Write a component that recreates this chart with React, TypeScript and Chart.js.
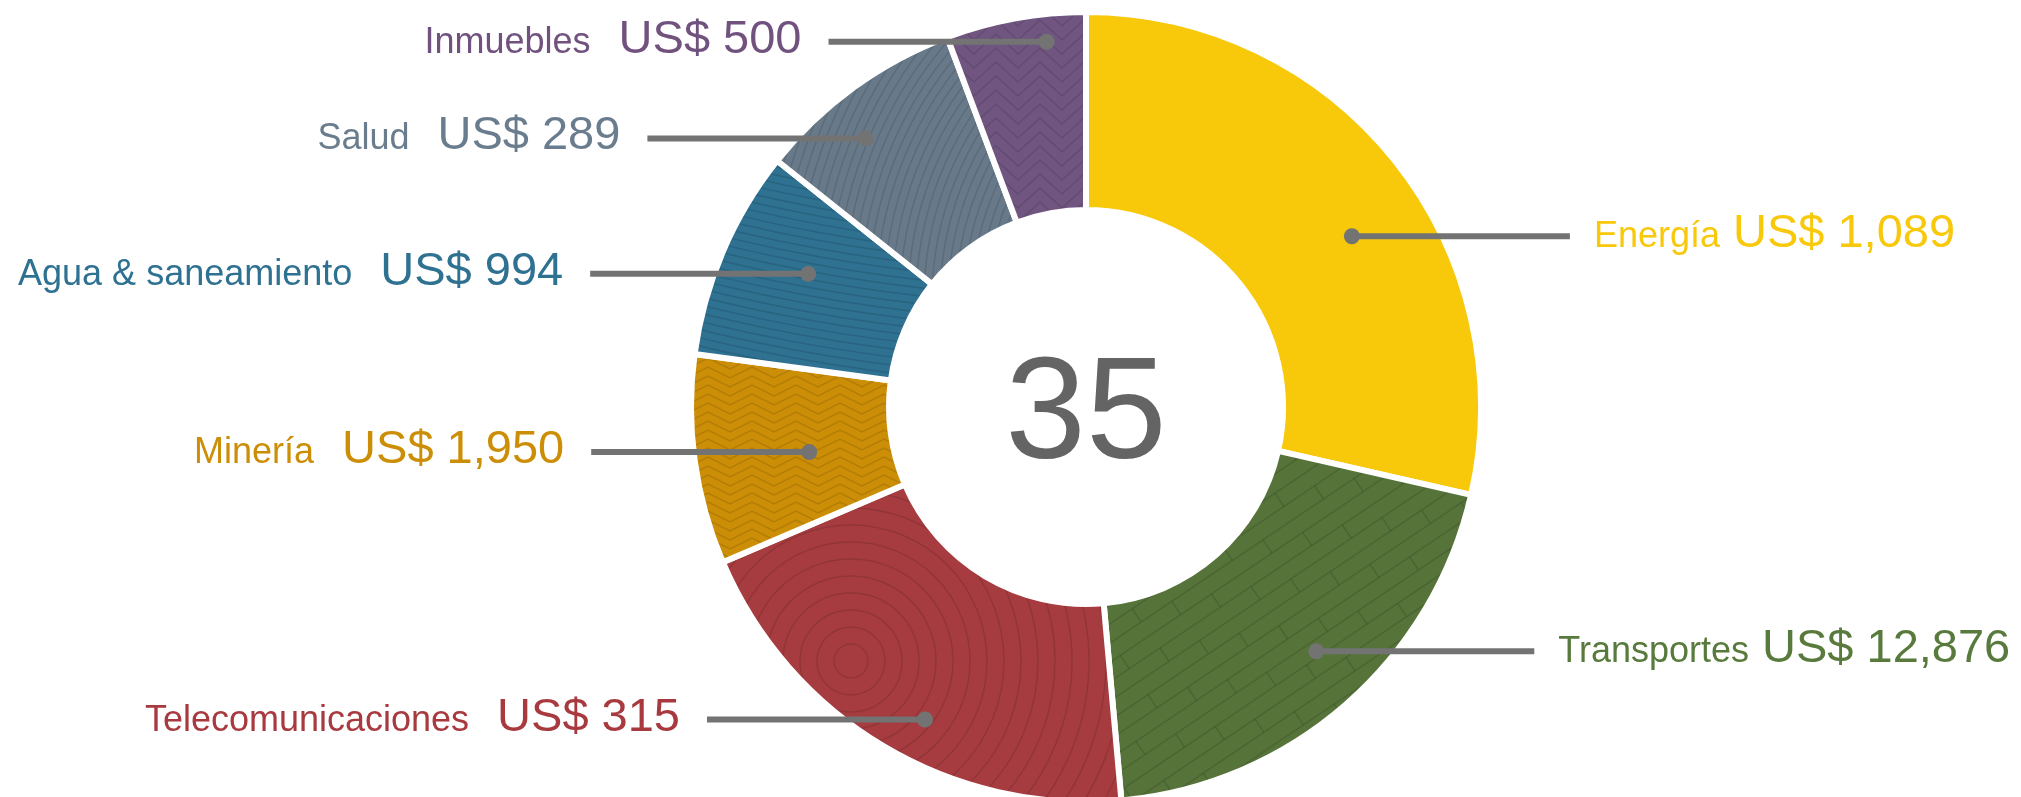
import React, { useEffect, useRef } from "react";
import { Chart, registerables } from "chart.js";

Chart.register(...registerables);

// ---- Data ----
const categories = ["Energía", "Transportes", "Telecomunicaciones", "Minería", "Agua & saneamiento", "Salud", "Inmuebles"];
const projectCounts = [10, 7, 7, 3, 3, 3, 2];
const investmentLabels = ["US$ 1,089", "US$ 12,876", "US$ 315", "US$ 1,950", "US$ 994", "US$ 289", "US$ 500"];

// ---- Styles ----
const sliceColors = ["#F8C80B", "#56733A", "#A63C40", "#CC8E06", "#2E7191", "#687A8A", "#705580"];
const textColors = ["#F8C80B", "#587A3C", "#A83A3F", "#CC8E06", "#2E7191", "#6A7D8E", "#71527F"];
const textures = ["plain", "planks", "rings", "zigzag", "arcsA", "arcsS", "chevrons"];
// where along each slice the leader dot sits: t = fraction of the slice's angle, r = fraction of outer radius
const leaderAnchors = [
  { t: 0.557, r: 0.8 },
  { t: 0.47, r: 0.85 },
  { t: 0.45, r: 0.89 },
  { t: 0.45, r: 0.71 },
  { t: 0.58, r: 0.78 },
  { t: 0.39, r: 0.88 },
  { t: 0.7, r: 0.93 },
];

const W = 2021;
const H = 797;
const FONT = "'Liberation Sans', Arial, sans-serif";

function makePattern(kind: string, color: string): CanvasPattern | string {
  if (kind === "plain") return color;
  const c = document.createElement("canvas");
  c.width = W;
  c.height = H;
  const g = c.getContext("2d")!;
  g.fillStyle = color;
  g.fillRect(0, 0, W, H);
  g.strokeStyle = "rgba(0,0,0,0.12)";
  g.lineWidth = 1.5;
  if (kind === "planks") {
    g.save();
    g.translate(1300, 650);
    g.rotate((-34 * Math.PI) / 180);
    let i = 0;
    for (let y = -800; y <= 800; y += 16, i++) {
      g.beginPath();
      g.moveTo(-900, y);
      g.lineTo(900, y);
      g.stroke();
      const off = (i * 37) % 110;
      for (let x = -900 + off; x < 900; x += 110) {
        g.beginPath();
        g.moveTo(x, y);
        g.lineTo(x, y + 16);
        g.stroke();
      }
    }
    g.restore();
  } else if (kind === "rings") {
    for (let r = 17; r < 700; r += 17) {
      g.beginPath();
      g.arc(851, 661, r, 0, Math.PI * 2);
      g.stroke();
    }
  } else if (kind === "zigzag") {
    for (let y = 250; y < 700; y += 9) {
      g.beginPath();
      let k = 0;
      for (let x = 620; x < 1000; x += 22, k++) {
        const yy = y + (k % 2 ? 11 : 0);
        if (k === 0) g.moveTo(x, yy);
        else g.lineTo(x, yy);
      }
      g.stroke();
    }
  } else if (kind === "arcsA") {
    for (let r = 1350; r < 1900; r += 8) {
      g.beginPath();
      g.arc(1100, -1300, r, 0, Math.PI * 2);
      g.stroke();
    }
  } else if (kind === "arcsS") {
    for (let r = 150; r < 700; r += 8) {
      g.beginPath();
      g.arc(1250, 300, r, 0, Math.PI * 2);
      g.stroke();
    }
  } else if (kind === "chevrons") {
    for (let y = -30; y < 270; y += 14) {
      g.beginPath();
      let k = 0;
      for (let x = 930; x < 1120; x += 22, k++) {
        const yy = y + (k % 2 ? -20 : 0);
        if (k === 0) g.moveTo(x, yy);
        else g.lineTo(x, yy);
      }
      g.stroke();
    }
  }
  const p = g.createPattern(c, "no-repeat");
  return p || color;
}

const leaderPlugin = {
  id: "leaderLabels",
  afterDraw(chart: any) {
    const ctx: CanvasRenderingContext2D = chart.ctx;
    const meta = chart.getDatasetMeta(0);
    const lineLen = 218;
    ctx.save();
    meta.data.forEach((arc: any, i: number) => {
      const a = leaderAnchors[i];
      const ang = arc.startAngle + a.t * (arc.endAngle - arc.startAngle);
      const rr = a.r * arc.outerRadius;
      const dx = arc.x + rr * Math.cos(ang);
      const dy = arc.y + rr * Math.sin(ang);
      const right = Math.cos(ang) > 0;
      const x2 = right ? dx + lineLen : dx - lineLen;
      ctx.strokeStyle = "#737373";
      ctx.lineWidth = 6;
      ctx.lineCap = "butt";
      ctx.beginPath();
      ctx.moveTo(dx, dy);
      ctx.lineTo(x2, dy);
      ctx.stroke();
      ctx.fillStyle = "#737373";
      ctx.beginPath();
      ctx.arc(dx, dy, 8, 0, Math.PI * 2);
      ctx.fill();

      const baseY = dy + 11;
      ctx.fillStyle = textColors[i];
      ctx.textBaseline = "alphabetic";
      const nameFont = `36px ${FONT}`;
      const valFont = `47px ${FONT}`;
      if (right) {
        ctx.textAlign = "left";
        ctx.font = nameFont;
        const nx = x2 + 24;
        ctx.fillText(categories[i], nx, baseY);
        const nw = ctx.measureText(categories[i]).width;
        ctx.font = valFont;
        ctx.fillText(investmentLabels[i], nx + nw + 13, baseY);
      } else {
        ctx.textAlign = "right";
        ctx.font = valFont;
        const vx = x2 - 27;
        ctx.fillText(investmentLabels[i], vx, baseY);
        const vw = ctx.measureText(investmentLabels[i]).width;
        ctx.font = nameFont;
        ctx.fillText(categories[i], vx - vw - 28, baseY);
      }
    });
    // center total
    const first = meta.data[0];
    if (first) {
      const total = projectCounts.reduce((s, v) => s + v, 0);
      ctx.fillStyle = "#646464";
      ctx.font = `145px ${FONT}`;
      ctx.textAlign = "center";
      ctx.textBaseline = "alphabetic";
      ctx.fillText(String(total), first.x, first.y + 51);
    }
    ctx.restore();
  },
};

export default function App() {
  const ref = useRef<HTMLCanvasElement | null>(null);
  useEffect(() => {
    if (!ref.current) return;
    const bg = sliceColors.map((c, i) => makePattern(textures[i], c));
    const outerR = 395;
    const innerR = 197;
    const chart = new Chart(ref.current, {
      type: "doughnut",
      data: {
        labels: categories,
        datasets: [
          {
            data: projectCounts,
            backgroundColor: bg as any,
            borderColor: "#ffffff",
            borderWidth: 6,
            hoverOffset: 0,
            clip: false as any,
          },
        ],
      },
      options: {
        responsive: false,
        animation: false,
        devicePixelRatio: 1,
        radius: outerR,
        cutout: `${(innerR / outerR) * 100}%`,
        rotation: 0,
        layout: { padding: { left: 151, right: 0, top: 17, bottom: 0 } },
        plugins: { legend: { display: false }, tooltip: { enabled: false } },
        events: [],
      } as any,
      plugins: [leaderPlugin],
    });
    return () => chart.destroy();
  }, []);
  return (
    <div style={{ position: "absolute", left: 0, top: 0, width: W, height: H, background: "#fff" }}>
      <canvas ref={ref} width={W} height={H} style={{ width: W, height: H, display: "block" }} />
    </div>
  );
}
